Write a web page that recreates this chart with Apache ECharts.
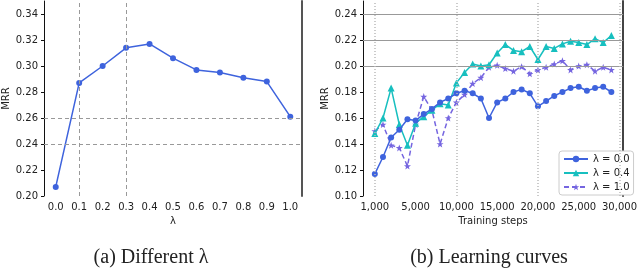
<!DOCTYPE html>
<html><head><meta charset="utf-8">
<script src="https://cdn.jsdelivr.net/npm/echarts@6/dist/echarts.min.js"></script>
<style>html,body{margin:0;padding:0;background:#fff}#c{width:640px;height:268px}</style>
</head><body><div id="c"></div>
<script>
// Panel (a): MRR vs lambda
const lambdaValues = [0.0, 0.1, 0.2, 0.3, 0.4, 0.5, 0.6, 0.7, 0.8, 0.9, 1.0];
const mrrByLambda = [0.207, 0.287, 0.300, 0.314, 0.317, 0.306, 0.297, 0.295, 0.291, 0.288, 0.261];
const yTicksA = [0.20, 0.22, 0.24, 0.26, 0.28, 0.30, 0.32, 0.34];

// Panel (b): learning curves (x = checkpoint index)
const stepIndex = [0,1,2,3,4,5,6,7,8,9,10,11,12,13,14,15,16,17,18,19,20,21,22,23,24,25,26,27,28,29];
const curveL00 = [0.117,0.130,0.145,0.151,0.159,0.158,0.163,0.167,0.172,0.175,0.179,0.181,0.179,0.175,0.160,0.172,0.175,0.180,0.182,0.179,0.169,0.173,0.177,0.180,0.183,0.184,0.181,0.183,0.184,0.180];
const curveL04 = [0.148,0.160,0.183,0.155,0.139,0.156,0.161,0.166,0.171,0.170,0.187,0.195,0.2015,0.200,0.201,0.210,0.2165,0.212,0.211,0.215,0.205,0.215,0.2135,0.217,0.219,0.218,0.2165,0.221,0.218,0.2235];
const curveL10 = [0.150,0.155,0.139,0.137,0.123,0.155,0.1765,0.166,0.140,0.160,0.172,0.178,0.1865,0.191,0.199,0.2005,0.198,0.196,0.1995,0.194,0.197,0.199,0.2015,0.204,0.197,0.200,0.201,0.196,0.199,0.197];
const xTickPosB = [0, 5, 10, 15, 20, 25, 30];
const xTickLabelsB = ['1,000', '5,000', '10,000', '15,000', '20,000', '25,000', '30,000'];
const yTicksB = [0.10, 0.12, 0.14, 0.16, 0.18, 0.20, 0.22, 0.24];
const seriesNames = ['λ = 0.0', 'λ = 0.4', 'λ = 1.0'];

const FONT = 'DejaVu Sans';
const BLUE = '#3e63dd', CYAN = '#17bfbf', PURPLE = '#7565e0';
const lbl = {fontFamily: FONT, fontSize: 10, color: '#222'};

const chart = echarts.init(document.getElementById('c'), null, {renderer: 'canvas'});
chart.setOption({
  animation: false,
  backgroundColor: '#fff',
  title: [
    {text: '(a) Different λ', left: 146, top: 243, textAlign: 'center',
     textStyle: {fontFamily: 'Liberation Serif', fontSize: 20, fontWeight: 'normal', color: '#222'}},
    {text: '(b) Learning curves', left: 484, top: 243, textAlign: 'center',
     textStyle: {fontFamily: 'Liberation Serif', fontSize: 20, fontWeight: 'normal', color: '#222'}}
  ],
  grid: [
    {left: 40, top: 1, width: 262, height: 195},
    {left: 363, top: 1, width: 263, height: 195}
  ],
  xAxis: [
    {gridIndex: 0, type: 'value', min: -0.05, max: 1.05, name: 'λ', nameLocation: 'middle', nameGap: 20,
     nameTextStyle: {fontFamily: FONT, fontSize: 10, color: '#222'},
     axisLine: {show: false, onZero: false}, splitLine: {show: false},
     axisTick: {show: false},
     axisLabel: Object.assign({customValues: lambdaValues, margin: 6, formatter: v => v.toFixed(1)}, lbl)},
    {gridIndex: 1, type: 'value', min: -1.45, max: 30.45, name: 'Training steps', nameLocation: 'middle', nameGap: 20,
     nameTextStyle: {fontFamily: FONT, fontSize: 10, color: '#222'},
     axisLine: {show: false, onZero: false}, splitLine: {show: false},
     axisTick: {show: false},
     axisLabel: Object.assign({customValues: xTickPosB, margin: 6,
       formatter: v => xTickLabelsB[xTickPosB.indexOf(Math.round(v))] || ''}, lbl)}
  ],
  yAxis: [
    {gridIndex: 0, type: 'value', min: 0.20, max: 0.35, name: 'MRR', nameLocation: 'middle', nameGap: 33,
     nameTextStyle: {fontFamily: FONT, fontSize: 10, color: '#222'},
     axisLine: {show: true, onZero: false, lineStyle: {color: '#111', width: 1}},
     axisTick: {show: true, length: 3, customValues: yTicksA, lineStyle: {color: '#111'}},
     splitLine: {show: false},
     axisLabel: Object.assign({customValues: yTicksA, margin: 6, formatter: v => v.toFixed(2)}, lbl)},
    {gridIndex: 1, type: 'value', min: 0.10, max: 0.25, name: 'MRR', nameLocation: 'middle', nameGap: 33,
     nameTextStyle: {fontFamily: FONT, fontSize: 10, color: '#222'},
     axisLine: {show: true, onZero: false, lineStyle: {color: '#111', width: 1}},
     axisTick: {show: true, length: 3, customValues: yTicksB, lineStyle: {color: '#111'}},
     splitLine: {show: false},
     axisLabel: Object.assign({customValues: yTicksB, margin: 6, formatter: v => v.toFixed(2)}, lbl)},
    // right spines
    {gridIndex: 0, type: 'value', position: 'right', min: 0, max: 1,
     axisLine: {show: true, onZero: false, lineStyle: {color: '#555', width: 2}},
     axisTick: {show: false}, axisLabel: {show: false}, splitLine: {show: false}},
    {gridIndex: 1, type: 'value', position: 'right', min: 0, max: 1,
     axisLine: {show: true, onZero: false, lineStyle: {color: '#444', width: 2}},
     axisTick: {show: false}, axisLabel: {show: false}, splitLine: {show: false}}
  ],
  legend: {
    left: 559, top: 151, orient: 'vertical', itemWidth: 24, itemHeight: 8, itemGap: 4,
    padding: [3, 4, 3, 4], borderColor: '#ccc', borderWidth: 1, borderRadius: 3, backgroundColor: '#fff',
    textStyle: {fontFamily: FONT, fontSize: 10, color: '#222'},
    data: seriesNames
  },
  series: [
    {type: 'line', xAxisIndex: 0, yAxisIndex: 0, data: lambdaValues.map((x, i) => [x, mrrByLambda[i]]),
     symbol: 'circle', symbolSize: 6, lineStyle: {color: BLUE, width: 1.5}, itemStyle: {color: BLUE},
     markLine: {silent: true, symbol: 'none', label: {show: false},
       lineStyle: {color: '#999', type: [4, 3], width: 1},
       data: [{xAxis: 0.1}, {xAxis: 0.3}, {yAxis: 0.24}, {yAxis: 0.26}]}},
    {type: 'line', name: seriesNames[0], xAxisIndex: 1, yAxisIndex: 1, data: stepIndex.map((x, i) => [x, curveL00[i]]),
     symbol: 'circle', symbolSize: 6, lineStyle: {color: BLUE, width: 1.5}, itemStyle: {color: BLUE}, z: 4,
     markLine: {silent: true, symbol: 'none', label: {show: false},
       lineStyle: {color: '#999', type: 'solid', width: 1},
       data: [{yAxis: 0.20}, {yAxis: 0.22}, {yAxis: 0.24}]}},
    {type: 'line', name: seriesNames[1], xAxisIndex: 1, yAxisIndex: 1, data: stepIndex.map((x, i) => [x, curveL04[i]]),
     symbol: 'triangle', symbolSize: 7, lineStyle: {color: CYAN, width: 1.5}, itemStyle: {color: CYAN}, z: 3,
     markLine: {silent: true, symbol: 'none', label: {show: false},
       lineStyle: {color: '#bbb', type: [1, 2], width: 1.5},
       data: [{xAxis: 0}, {xAxis: 10}, {xAxis: 20}, {xAxis: 30}]}},
    {type: 'line', name: seriesNames[2], xAxisIndex: 1, yAxisIndex: 1, data: stepIndex.map((x, i) => [x, curveL10[i]]),
     symbol: 'path://M0,-10 L2.4,-3.2 L9.5,-3.1 L3.8,1.2 L5.9,8.1 L0,4 L-5.9,8.1 L-3.8,1.2 L-9.5,-3.1 L-2.4,-3.2 Z',
     symbolSize: 7, lineStyle: {color: PURPLE, width: 1.5, type: [5, 3]}, itemStyle: {color: PURPLE}, z: 2}
  ]
});
</script></body></html>
